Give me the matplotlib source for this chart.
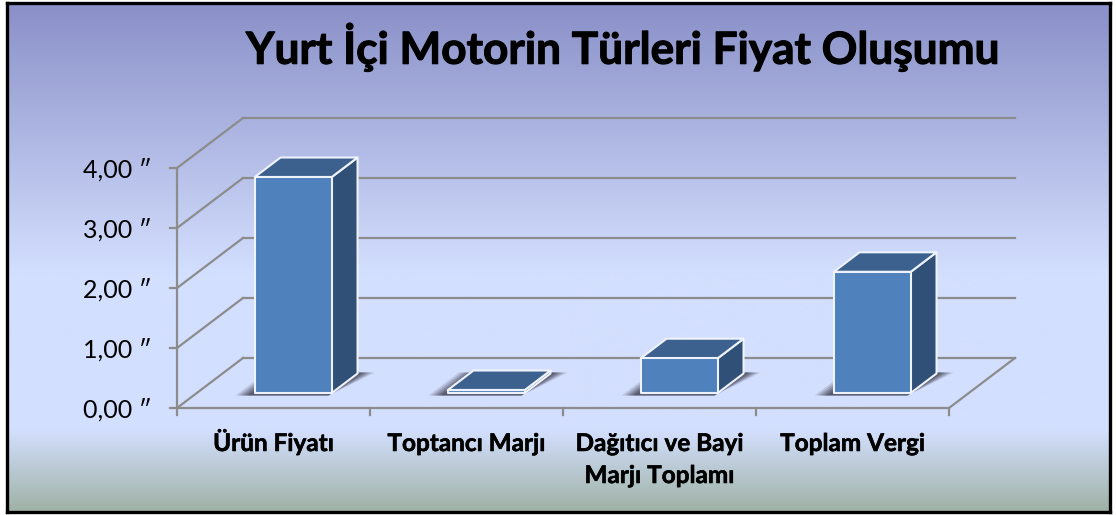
import matplotlib
matplotlib.use('Agg')
import matplotlib.pyplot as plt
import matplotlib.patheffects as pe
import numpy as np
from matplotlib.colors import LinearSegmentedColormap
from matplotlib.patches import Polygon

categorias = ['Ürün Fiyatı', 'Toptancı Marjı', 'Dağıtıcı ve Bayi\nMarjı Toplamı', 'Toplam Vergi']
valores = [3.60, 0.05, 0.58, 2.02]
ticks = [0, 1, 2, 3, 4]
rotulos = ['0,00 ″', '1,00 ″', '2,00 ″', '3,00 ″', '4,00 ″']
titulo = 'Yurt İçi Motorin Türleri Fiyat Oluşumu'

W, H = 1116, 515
PX_X = 193.0   # pixels por categoria
PX_Y = 60.0    # pixels por unidade
X0, Y0 = 177, 408
FUNDO_X, FUNDO_Y = 66 / PX_X, 50 / PX_Y   # deslocamento da profundidade

plt.rcParams['font.family'] = ['Lato', 'DejaVu Sans']
fig = plt.figure(figsize=(W / 100, H / 100), dpi=100, facecolor='white')

# fundo em degrade
fundo = fig.add_axes([7 / W, 3 / H, (1110 - 7) / W, (512 - 3) / H])
cores = [(0, '#8a90c8'), (0.53, '#d3dffe'), (0.84, '#d3dffe'), (1, '#9fb2a5')]
cmap = LinearSegmentedColormap.from_list('fundo', cores)
fundo.imshow(np.linspace(0, 1, 256).reshape(-1, 1), aspect='auto', cmap=cmap)
fundo.set_xticks([])
fundo.set_yticks([])
for s in fundo.spines.values():
    s.set_linewidth(2.4)
    s.set_color('black')

# eixo principal: x em categorias, y em valores
ax = fig.add_axes([0, 0, 1, 1])
ax.set_xlim(-X0 / PX_X, (W - X0) / PX_X)
ax.set_ylim(-(H - Y0) / PX_Y, Y0 / PX_Y)
ax.axis('off')


def proj(x, y, d):
    return (x + d * FUNDO_X, y + d * FUNDO_Y)


n = len(categorias)
cinza = '#8c8c8c'
for t in ticks:
    a = proj(0, t, 0)
    b = proj(0, t, 1)
    c = proj(n, t, 1)
    ax.plot([a[0], b[0]], [a[1], b[1]], color=cinza, lw=1.6, zorder=2)
    ax.plot([b[0], c[0]], [b[1], c[1]], color=cinza, lw=1.6, zorder=2)
    ax.plot([-7 / PX_X, 0], [t, t], color=cinza, lw=1.6, zorder=2)
    ax.text(-25 / PX_X, t - 0.035, rotulos[t], ha='right', va='center', fontsize=18, color='black')

ax.plot([0, 0], [0, 4], color=cinza, lw=1.6, zorder=2)
ax.plot([0, n], [0, 0], color=cinza, lw=1.6, zorder=2)
a = proj(n, 0, 0)
b = proj(n, 0, 1)
ax.plot([a[0], b[0]], [a[1], b[1]], color=cinza, lw=1.6, zorder=2)
for i in range(n + 1):
    ax.plot([i, i], [0, -7 / PX_Y], color=cinza, lw=1.6, zorder=2)

# barras
LARG = 77 / PX_X
D1, D2 = 0.30, 0.69
for i, v in enumerate(valores):
    x1 = i + 0.5 - LARG / 2
    x2 = x1 + LARG
    # sombra no chao
    for k, alfa in zip([16, 13, 10, 7, 4], [0.14, 0.2, 0.24, 0.28, 0.32]):
        e = k / PX_X
        sombra = [proj(x1 - e, 0, D1 - 0.05), proj(x2, 0, D1 - 0.05),
                  proj(x2 + e, 0, D2 + 0.02), proj(x1 - e, 0, D2 + 0.02)]
        ax.add_patch(Polygon(sombra, closed=True, fc='#303040', ec='none', alpha=alfa, zorder=3))
    frente = [proj(x1, 0, D1), proj(x2, 0, D1), proj(x2, v, D1), proj(x1, v, D1)]
    lado = [proj(x2, 0, D1), proj(x2, 0, D2), proj(x2, v, D2), proj(x2, v, D1)]
    topo = [proj(x1, v, D1), proj(x2, v, D1), proj(x2, v, D2), proj(x1, v, D2)]
    ax.add_patch(Polygon(lado, closed=True, fc='#305078', ec='#eef2fa', lw=1.5, zorder=4, joinstyle='round'))
    ax.add_patch(Polygon(topo, closed=True, fc='#3c618e', ec='#eef2fa', lw=1.5, zorder=4, joinstyle='round'))
    ax.add_patch(Polygon(frente, closed=True, fc='#4f81bd', ec='#eef2fa', lw=1.5, zorder=5, joinstyle='round'))

# rotulos das categorias, uma linha de cada vez
for i, nome in enumerate(categorias):
    for j, linha in enumerate(nome.split('\n')):
        ax.text(i + 0.5, -(43 + 32 * j) / PX_Y, linha, ha='center', va='baseline', fontsize=17.5,
                fontweight='bold', color='black',
                path_effects=[pe.withStroke(linewidth=0.4, foreground='black')])

ax.text(623 / W, 1 - 47 / H, titulo, transform=ax.transAxes, ha='center', va='center',
        fontsize=31.8, fontweight='bold', color='black',
        path_effects=[pe.withStroke(linewidth=0.8, foreground='black')])

fig.savefig('out.png', dpi=100)
